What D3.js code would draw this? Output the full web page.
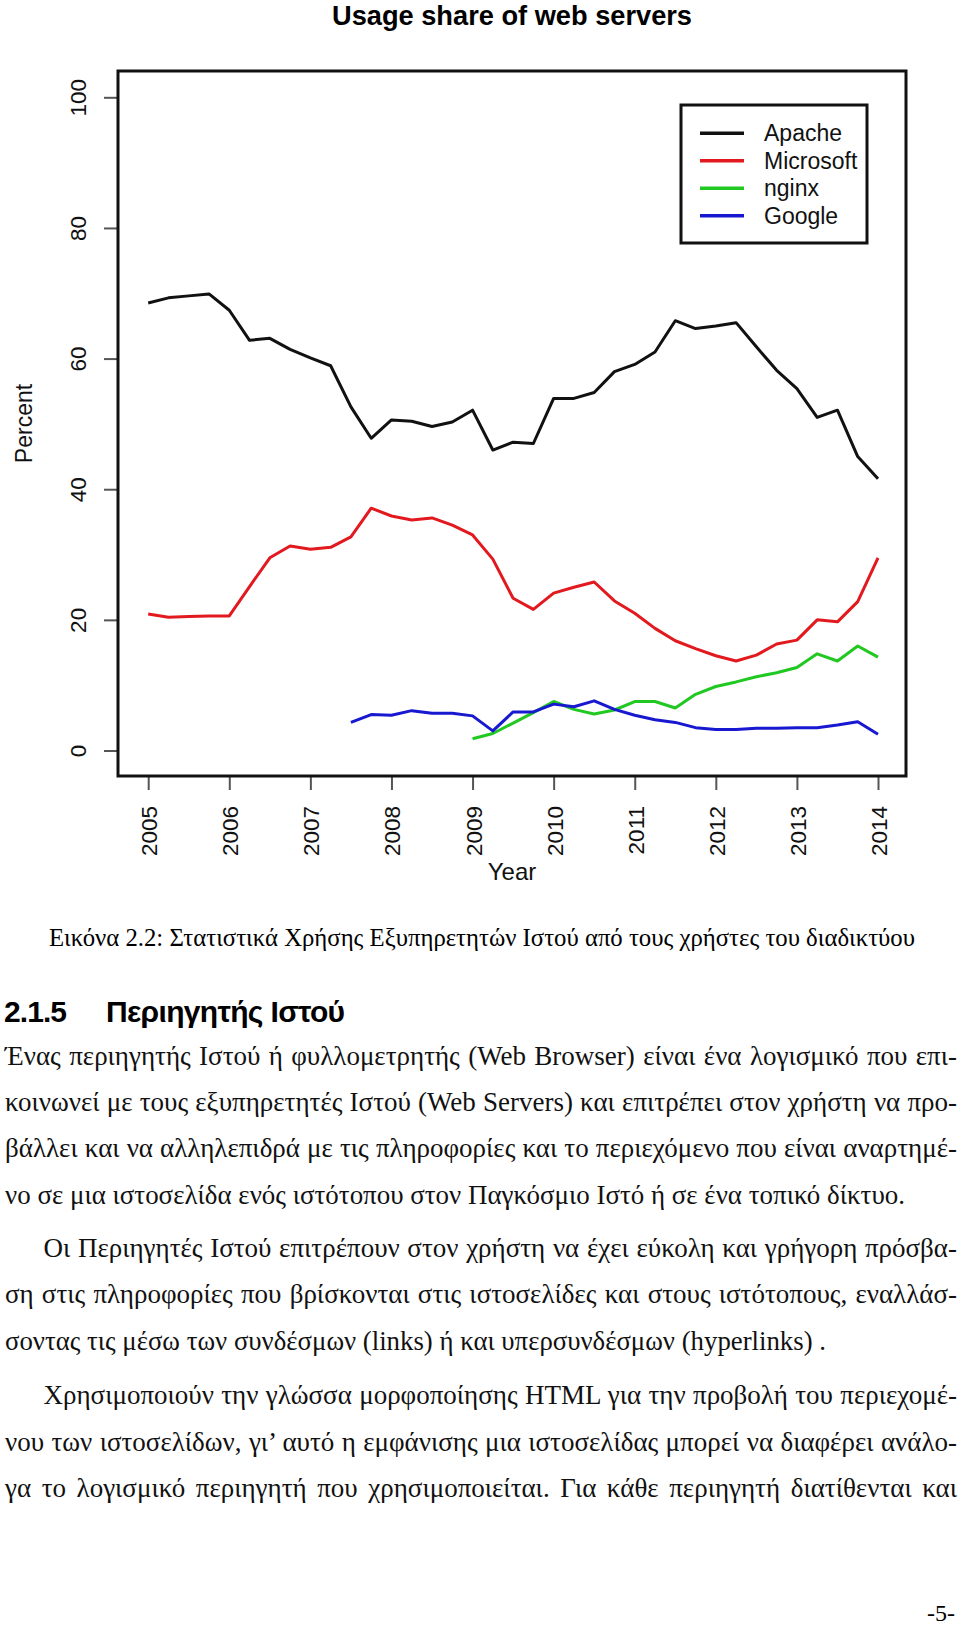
<!DOCTYPE html>
<html>
<head>
<meta charset="utf-8">
<script src="https://cdn.jsdelivr.net/npm/d3@7"></script>
<style>
  body { margin: 0; background: #fff; }
  svg { display: block; }
</style>
</head>
<body>
<div id="wrapper"></div>
<script>
// quarterly samples 2005..2014
const quarters = [
  2005, 2005.25, 2005.5, 2005.75, 2006, 2006.25, 2006.5, 2006.75,
  2007, 2007.25, 2007.5, 2007.75, 2008, 2008.25, 2008.5, 2008.75,
  2009, 2009.25, 2009.5, 2009.75, 2010, 2010.25, 2010.5, 2010.75,
  2011, 2011.25, 2011.5, 2011.75, 2012, 2012.25, 2012.5, 2012.75,
  2013, 2013.25, 2013.5, 2013.75, 2014,
]
const apache = [
  68.5, 69.3, 69.6, 69.9, 67.4, 62.8, 63.1, 61.4, 60.1, 58.9, 52.6, 47.8,
  50.6, 50.4, 49.6, 50.3, 52.1, 46.0, 47.2, 47.0, 53.9, 53.9, 54.8, 58.0,
  59.1, 61.0, 65.8, 64.6, 65.0, 65.5, 61.8, 58.2, 55.4, 51.0, 52.1, 45.0, 41.6,
]
const microsoft = [
  20.9, 20.4, 20.5, 20.6, 20.6, 25.1, 29.5, 31.3, 30.8, 31.1, 32.7, 37.1,
  35.9, 35.3, 35.6, 34.5, 33.0, 29.3, 23.3, 21.6, 24.1, 25.0, 25.8, 22.9,
  21.0, 18.7, 16.8, 15.6, 14.5, 13.7, 14.6, 16.3, 16.9, 20.0, 19.7, 22.8, 29.5,
]
// nginx starts 2009, google starts mid 2007
const nginx = [
  null, null, null, null, null, null, null, null, null, null, null, null,
  null, null, null, null, 1.8, 2.6, 4.2, 5.8, 7.5, 6.3, 5.6, 6.2,
  7.5, 7.5, 6.5, 8.6, 9.8, 10.5, 11.3, 11.9, 12.7, 14.8, 13.7, 16.0, 14.3,
]
const google = [
  null, null, null, null, null, null, null, null, null, null, 4.3, 5.5,
  5.4, 6.1, 5.7, 5.7, 5.3, 3.0, 5.9, 5.9, 7.1, 6.7, 7.6, 6.3,
  5.4, 4.7, 4.3, 3.5, 3.2, 3.2, 3.4, 3.4, 3.5, 3.5, 3.9, 4.4, 2.5,
]
const seriesNames = ['Apache', 'Microsoft', 'nginx', 'Google']
const seriesColors = ['#111111', '#e2191e', '#22c822', '#1818d0']
const yearTicks = [2005, 2006, 2007, 2008, 2009, 2010, 2011, 2012, 2013, 2014]
const percentTicks = [0, 20, 40, 60, 80, 100]

const caption = 'Εικόνα 2.2: Στατιστικά Χρήσης Εξυπηρετητών Ιστού από τους χρήστες του διαδικτύου'
const headingNum = '2.1.5'
const headingText = 'Περιηγητής Ιστού'
const bodyLines = [
  'Ένας περιηγητής Ιστού ή φυλλομετρητής (Web Browser) είναι ένα λογισμικό που επι-',
  'κοινωνεί με τους εξυπηρετητές Ιστού (Web Servers) και επιτρέπει στον χρήστη να προ-',
  'βάλλει και να αλληλεπιδρά με τις πληροφορίες και το περιεχόμενο που είναι αναρτημέ-',
  'νο σε μια ιστοσελίδα ενός ιστότοπου στον Παγκόσμιο Ιστό ή σε ένα τοπικό δίκτυο.',
  'Οι Περιηγητές Ιστού επιτρέπουν στον χρήστη να έχει εύκολη και γρήγορη πρόσβα-',
  'ση στις πληροφορίες που βρίσκονται στις ιστοσελίδες και στους ιστότοπους, εναλλάσ-',
  'σοντας τις μέσω των συνδέσμων (links) ή και υπερσυνδέσμων (hyperlinks) .',
  'Χρησιμοποιούν την γλώσσα μορφοποίησης HTML για την προβολή του περιεχομέ-',
  'νου των ιστοσελίδων, γι’ αυτό η εμφάνισης μια ιστοσελίδας μπορεί να διαφέρει ανάλο-',
  'γα το λογισμικό περιηγητή που χρησιμοποιείται. Για κάθε περιηγητή διατίθενται και',
]
const pageNumber = '-5-'

const width = 960
const height = 1626
const box = { left: 118, right: 906, top: 71, bottom: 776 }

const svg = d3
  .select('#wrapper')
  .append('svg')
  .attr('width', width)
  .attr('height', height)

svg.append('rect').attr('width', width).attr('height', height).attr('fill', '#fff')

const sans = "'Liberation Sans', Arial, sans-serif"
const serif = "'Liberation Serif', 'Times New Roman', serif"

// Scales
const xScale = d3.scaleLinear().domain([2005, 2014]).range([148.2, 878])
const yScale = d3.scaleLinear().domain([0, 100]).range([750.5, 97.3])

// Title
svg
  .append('text')
  .attr('x', 512)
  .attr('y', 25)
  .attr('text-anchor', 'middle')
  .attr('font-family', sans)
  .attr('font-weight', 'bold')
  .attr('font-size', 28)
  .attr('textLength', 360)
  .attr('lengthAdjust', 'spacingAndGlyphs')
  .text('Usage share of web servers')

// Axes
const yAxis = svg
  .append('g')
  .attr('transform', `translate(${box.left},0)`)
  .call(d3.axisLeft(yScale).tickValues(percentTicks).tickSize(14).tickFormat(d3.format('d')))
yAxis.select('.domain').remove()
yAxis.selectAll('line').attr('stroke', '#555').attr('stroke-width', 2)
yAxis
  .selectAll('text')
  .attr('transform', 'rotate(-90)')
  .attr('x', 0)
  .attr('y', -32)
  .attr('dy', 0)
  .attr('text-anchor', 'middle')
  .attr('font-family', sans)
  .attr('font-size', 22.5)
  .attr('fill', '#111')

const xAxis = svg
  .append('g')
  .attr('transform', `translate(0,${box.bottom})`)
  .call(d3.axisBottom(xScale).tickValues(yearTicks).tickSize(14).tickFormat(d3.format('d')))
xAxis.select('.domain').remove()
xAxis.selectAll('line').attr('stroke', '#555').attr('stroke-width', 2)
xAxis
  .selectAll('text')
  .attr('transform', 'rotate(-90)')
  .attr('x', -30)
  .attr('y', 8.5)
  .attr('dy', 0)
  .attr('text-anchor', 'end')
  .attr('font-family', sans)
  .attr('font-size', 22.5)
  .attr('fill', '#111')

svg
  .append('text')
  .attr('transform', `translate(32,${(box.top + box.bottom) / 2}) rotate(-90)`)
  .attr('text-anchor', 'middle')
  .attr('font-family', sans)
  .attr('font-size', 23)
  .attr('fill', '#111')
  .text('Percent')

svg
  .append('text')
  .attr('x', 512)
  .attr('y', 880)
  .attr('text-anchor', 'middle')
  .attr('font-family', sans)
  .attr('font-size', 24)
  .attr('fill', '#111')
  .text('Year')

// Lines
const allSeries = [apache, microsoft, nginx, google]
const lineGenerator = d3
  .line()
  .defined((d) => d.v != null)
  .x((d) => xScale(d.t))
  .y((d) => yScale(d.v))

svg
  .append('g')
  .selectAll('path')
  .data(allSeries)
  .enter()
  .append('path')
  .attr('fill', 'none')
  .attr('stroke', (d, i) => seriesColors[i])
  .attr('stroke-width', 3)
  .attr('stroke-linejoin', 'round')
  .attr('d', (d) => lineGenerator(d.map((v, i) => ({ t: quarters[i], v }))))

// Plot box
svg
  .append('rect')
  .attr('x', box.left)
  .attr('y', box.top)
  .attr('width', box.right - box.left)
  .attr('height', box.bottom - box.top)
  .attr('fill', 'none')
  .attr('stroke', '#111')
  .attr('stroke-width', 3)

// Legend
const legend = svg.append('g').attr('class', 'legend')
legend
  .append('rect')
  .attr('x', 681)
  .attr('y', 105)
  .attr('width', 186)
  .attr('height', 138)
  .attr('fill', '#fff')
  .attr('stroke', '#111')
  .attr('stroke-width', 3)
const legendRow = legend
  .selectAll('.row')
  .data(seriesNames)
  .enter()
  .append('g')
  .attr('class', 'row')
  .attr('transform', (d, i) => `translate(0,${133.3 + i * 27.5})`)
legendRow
  .append('line')
  .attr('x1', 700)
  .attr('x2', 744)
  .attr('stroke', (d, i) => seriesColors[i])
  .attr('stroke-width', 3.5)
legendRow
  .append('text')
  .attr('x', 764)
  .attr('y', 8)
  .attr('font-family', sans)
  .attr('font-size', 23)
  .attr('fill', '#111')
  .text((d) => d)

// Document text below the figure
svg
  .append('text')
  .attr('x', 49)
  .attr('y', 946)
  .attr('font-family', serif)
  .attr('font-size', 25)
  .attr('textLength', 866)
  .attr('lengthAdjust', 'spacingAndGlyphs')
  .text(caption)

const heading = svg
  .append('g')
  .attr('font-family', sans)
  .attr('font-weight', 'bold')
  .attr('font-size', 30)
  .attr('lengthAdjust', 'spacingAndGlyphs')
heading.append('text').attr('x', 4).attr('y', 1022).attr('textLength', 63).text(headingNum)
heading.append('text').attr('x', 106).attr('y', 1022).attr('textLength', 239).text(headingText)

// x start, baseline, right edge of each printed line
const lineStarts = [5, 5, 5, 5, 43.5, 5, 5, 43.5, 5, 5]
const lineBaselines = [1065, 1110.5, 1157, 1203.5, 1256.5, 1303, 1350, 1404, 1450.5, 1497]
const lineEnds = [957, 957, 957, 905, 957, 957, 826, 957, 957, 957]
const lineJustify = [true, true, true, false, true, true, false, true, true, true]

svg
  .append('g')
  .selectAll('text')
  .data(bodyLines)
  .enter()
  .append('text')
  .attr('x', (d, i) => lineStarts[i])
  .attr('y', (d, i) => lineBaselines[i])
  .attr('font-family', serif)
  .attr('font-size', 27)
  .attr('fill', '#111')
  .text((d) => d)
  .each(function (d, i) {
    const target = lineEnds[i] - lineStarts[i]
    if (!lineJustify[i]) {
      d3.select(this).attr('textLength', target).attr('lengthAdjust', 'spacingAndGlyphs')
      return
    }
    const natural = this.getComputedTextLength()
    const spaces = (d.match(/ /g) || []).length
    const extra = (target - natural) / spaces
    if (extra >= 0) {
      d3.select(this).attr('word-spacing', extra)
    } else {
      d3.select(this).attr('textLength', target).attr('lengthAdjust', 'spacingAndGlyphs')
    }
  })

svg
  .append('text')
  .attr('x', 955)
  .attr('y', 1621)
  .attr('text-anchor', 'end')
  .attr('font-family', serif)
  .attr('font-size', 24)
  .text(pageNumber)
</script>
</body>
</html>
